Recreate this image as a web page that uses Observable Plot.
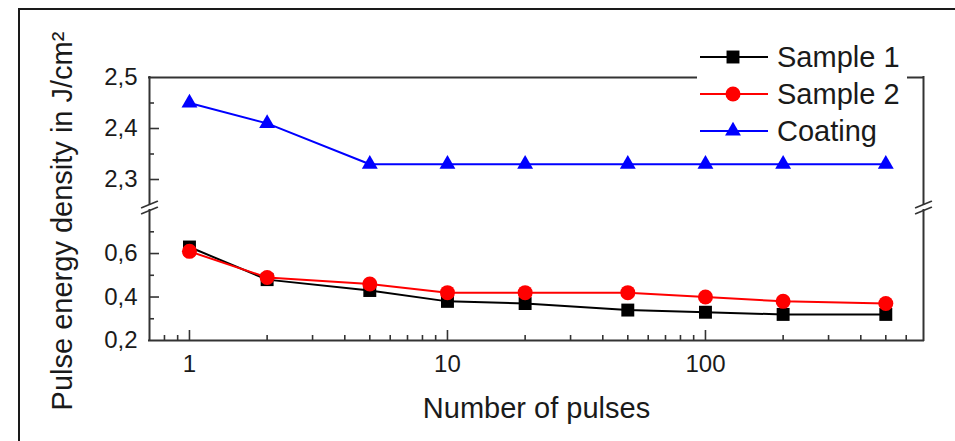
<!DOCTYPE html>
<html><head><meta charset="utf-8">
<script src="https://cdn.jsdelivr.net/npm/d3@7"></script>
<script src="https://cdn.jsdelivr.net/npm/@observablehq/plot@0.6"></script>
<style>
html,body{margin:0;padding:0;background:#fff;overflow:hidden;}
#wrap{position:relative;width:955px;height:441px;font-family:"Liberation Sans",Arial,sans-serif;overflow:hidden;}
#border{position:absolute;left:18px;top:8px;width:1000px;height:500px;border:2px solid #1a1a1a;box-sizing:border-box;}
#chart{position:absolute;left:0;top:0;}
#legend{position:absolute;left:697px;top:38px;width:210px;height:112px;background:#fff;}
.row{position:absolute;left:0;height:37px;display:flex;align-items:center;font-size:29px;color:#1a1a1a;white-space:nowrap;}
.row svg{margin-right:8px;}
</style>
</head><body>
<div id="wrap"><div id="border"></div><div id="chart"></div><div id="legend"></div></div>
<script>
// ---- data ----
const pulses = [1, 2, 5, 10, 20, 50, 100, 200, 500];
const sample1 = [0.63, 0.48, 0.43, 0.38, 0.37, 0.34, 0.33, 0.32, 0.32];
const sample2 = [0.61, 0.49, 0.46, 0.42, 0.42, 0.42, 0.40, 0.38, 0.37];
const coating = [2.45, 2.41, 2.33, 2.33, 2.33, 2.33, 2.33, 2.33, 2.33];
const seriesNames = ["Sample 1", "Sample 2", "Coating"];
const seriesColors = ["#000000", "#ff0000", "#0000ff"];
const seriesSymbols = ["square", "circle", "triangle"];
const xTickLabels = [1, 10, 100];
const xMinorTicks = [0.8, 0.9, 2, 3, 4, 5, 6, 7, 8, 9, 20, 30, 40, 50, 60, 70, 80, 90, 200, 300, 400, 500, 600];
const yTickLabels = [0.2, 0.4, 0.6, 2.3, 2.4, 2.5];
const yMajorTicks = [0.4, 0.6, 2.3, 2.4];
const yMinorTicks = [0.3, 0.5, 0.7, 2.35, 2.45];
const xDomain = [0.7, 700];
const yLower = [0.2, 0.798];
const yUpper = [2.251, 2.5];
const xTitle = "Number of pulses";
const yTitle = "Pulse energy density in J/cm²";

const seriesValues = [sample1, sample2, coating];
const data = seriesNames.flatMap((name, s) => pulses.map((p, i) => ({series: name, x: p, y: seriesValues[s][i]})));

const W = 955, H = 441;
const mL = 149, mR = 32, mT = 77, mB = 101;
const frameW = W - mL - mR, frameH = H - mT - mB;
const axisColor = "#333";
const textColor = "#1a1a1a";
const fmt = d => d3.format(".1f")(d).replace(".", ",");

const breakShape = {draw(ctx, l) { ctx.moveTo(0, 0); ctx.lineTo(0, -l); }};

const marks = [
  // frame lines
  Plot.ruleY([yUpper[1], yLower[0]], {stroke: axisColor, strokeWidth: 2, strokeLinecap: "square"}),
  Plot.ruleX([xDomain[0], xDomain[1]], {y1: yLower[0], y2: yLower[1], stroke: axisColor, strokeWidth: 2, strokeLinecap: "square"}),
  Plot.ruleX([xDomain[0], xDomain[1]], {y1: yUpper[0], y2: yUpper[1], stroke: axisColor, strokeWidth: 2, strokeLinecap: "square"}),
  // break marks
  Plot.vector([yLower[1], yUpper[0]], {y: d => d, frameAnchor: "left", rotate: 68, length: 17, anchor: "middle", shape: breakShape, stroke: axisColor, strokeWidth: 1.6}),
  Plot.vector([yLower[1], yUpper[0]], {y: d => d, frameAnchor: "right", rotate: 68, length: 17, anchor: "middle", shape: breakShape, stroke: axisColor, strokeWidth: 1.6}),
  // ticks
  Plot.tickX(xTickLabels, {x: d => d, insetTop: frameH - 10, stroke: axisColor, strokeWidth: 1.6}),
  Plot.tickX(xMinorTicks, {x: d => d, insetTop: frameH - 5, stroke: axisColor, strokeWidth: 1.6}),
  Plot.tickY(yMajorTicks, {y: d => d, insetRight: frameW - 10, stroke: axisColor, strokeWidth: 1.6}),
  Plot.tickY(yMinorTicks, {y: d => d, insetRight: frameW - 5, stroke: axisColor, strokeWidth: 1.6}),
  // tick labels
  Plot.text(yTickLabels, {y: d => d, frameAnchor: "left", dx: -12, textAnchor: "end", lineAnchor: "middle", text: fmt, fontSize: 24, fill: textColor}),
  Plot.text(xTickLabels, {x: d => d, frameAnchor: "bottom", dy: 24, lineAnchor: "middle", text: d => String(d), fontSize: 24, fill: textColor}),
  // titles
  Plot.text([xTitle], {frameAnchor: "bottom", dy: 68, lineAnchor: "middle", textAnchor: "middle", fontSize: 29, fill: textColor}),
  Plot.text([yTitle], {frameAnchor: "left", rotate: -90, dx: -87, dy: 12, textAnchor: "middle", lineAnchor: "middle", fontSize: 29, fill: textColor}),
];
seriesNames.forEach((name, s) => {
  const d = data.filter(v => v.series === name);
  marks.push(Plot.line(d, {x: "x", y: "y", stroke: seriesColors[s], strokeWidth: 2}));
  const r = seriesSymbols[s] === "square" ? 7.3 : seriesSymbols[s] === "circle" ? 7.5 : 5.9;
  marks.push(Plot.dot(d, {x: "x", y: "y", symbol: () => seriesSymbols[s], r, fill: seriesColors[s], stroke: "none"}));
});

const chart = Plot.plot({
  width: W, height: H,
  marginLeft: mL, marginRight: mR, marginTop: mT, marginBottom: mB,
  style: {fontFamily: '"Liberation Sans", Arial, sans-serif', background: "transparent", overflow: "visible"},
  x: {type: "log", domain: xDomain, axis: null},
  y: {type: "linear", domain: [yLower[0], yLower[1], yUpper[0], yUpper[1]], range: [H - mB, 210, 204, mT], axis: null},
  symbol: {type: "identity"},
  marks
});
document.getElementById("chart").appendChild(chart);

// legend
const legend = d3.select("#legend");
seriesNames.forEach((name, s) => {
  const row = legend.append("div").attr("class", "row").style("top", (0.5 + s * 37) + "px");
  const svg = row.append("svg").attr("width", 72).attr("height", 24);
  svg.append("line").attr("x1", 3).attr("x2", 71).attr("y1", 12).attr("y2", 12).attr("stroke", seriesColors[s]).attr("stroke-width", 2);
  const r = seriesSymbols[s] === "square" ? 7.3 : seriesSymbols[s] === "circle" ? 7.5 : 5.9;
  const sym = seriesSymbols[s] === "square" ? d3.symbolSquare : seriesSymbols[s] === "circle" ? d3.symbolCircle : d3.symbolTriangle;
  svg.append("path").attr("transform", "translate(36,12)").attr("d", d3.symbol(sym, r * r * Math.PI)()).attr("fill", seriesColors[s]);
  row.append("span").text(name);
});
</script>
</body></html>
